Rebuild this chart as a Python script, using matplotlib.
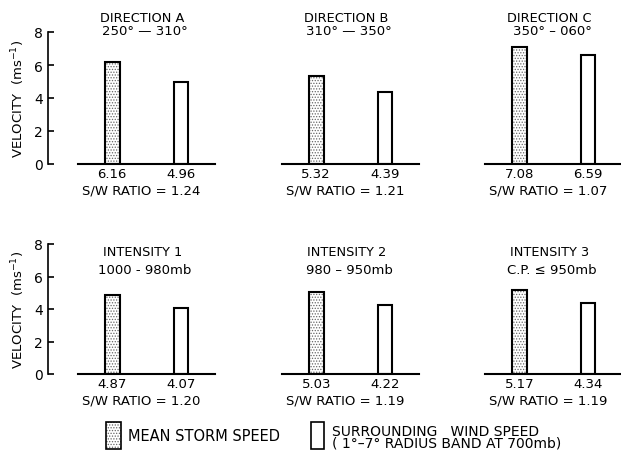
"""Storm speed vs surrounding wind speed, by direction and intensity class."""

import matplotlib
matplotlib.use("Agg")

import matplotlib.pyplot as plt
from matplotlib.patches import Rectangle

plt.rcParams.update({
    "font.family": "DejaVu Sans",
    "font.size": 9,
    "hatch.linewidth": 0.6,
})

# ---------------------------------------------------------------------------
# Dados
# ---------------------------------------------------------------------------
titles = ["DIRECTION A", "DIRECTION B", "DIRECTION C",
          "INTENSITY 1", "INTENSITY 2", "INTENSITY 3"]
subtitles = ["250° — 310°", "310° — 350°", "350° – 060°",
             "1000 - 980mb", "980 – 950mb", "C.P. ≤ 950mb"]
storm_speed = [6.16, 5.32, 7.08, 4.87, 5.03, 5.17]
wind_speed = [4.96, 4.39, 6.59, 4.07, 4.22, 4.34]
sw_ratio = ["1.24", "1.21", "1.07", "1.20", "1.19", "1.19"]
y_ticks = [0, 2, 4, 6, 8]

W, H = 621, 452
fig = plt.figure(figsize=(W / 100, H / 100), dpi=100)

col_x = [78, 282, 485]            # pixel left edge of each baseline
row_y = [(165, 132), (375, 130)]  # (baseline px, height px of 0..8)
ax_w = 137
LW = 1.5

for i in range(6):
    r, c = divmod(i, 3)
    base, h = row_y[r]
    ax = fig.add_axes([col_x[c] / W, 1 - base / H, ax_w / W, h / H])
    ax.set_xlim(0, 4)
    ax.set_ylim(0, 8)
    # barra pontilhada (tempestade) + contorno
    ax.bar(1, storm_speed[i], width=0.44, color="white", edgecolor="#666666",
           hatch="......", linewidth=0)
    ax.bar(1, storm_speed[i], width=0.44, fill=False, edgecolor="black",
           linewidth=LW)
    ax.bar(3, wind_speed[i], width=0.4, color="white", edgecolor="black",
           linewidth=LW)
    for s in ("top", "right"):
        ax.spines[s].set_visible(False)
    ax.spines["bottom"].set_linewidth(LW)
    ax.set_xticks([])
    if c == 0:
        ax.spines["left"].set_position(("outward", 21.6))
        ax.spines["left"].set_linewidth(1.2)
        ax.set_yticks(y_ticks)
        ax.tick_params(axis="y", direction="in", length=4, width=1.2,
                       labelsize=10, pad=3.5)
        ax.set_ylabel(r"VELOCITY  (ms$^{-1}$)", fontsize=9.5, labelpad=5)
    else:
        ax.spines["left"].set_visible(False)
        ax.set_yticks([])

    if r == 0:
        t1, t2 = (165 - 18) / h, (165 - 31.5) / h
    else:
        t1, t2 = (375 - 253) / h, (375 - 271) / h
    ax.text(0.47, t1, titles[i], transform=ax.transAxes, ha="center",
            va="center", fontsize=9.3)
    ax.text(0.49, t2, subtitles[i], transform=ax.transAxes, ha="center",
            va="center", fontsize=9.5)

    ax.text(1, -0.07, f"{storm_speed[i]:.2f}", transform=ax.get_xaxis_transform(),
            ha="center", va="center", fontsize=9.5)
    ax.text(3, -0.07, f"{wind_speed[i]:.2f}", transform=ax.get_xaxis_transform(),
            ha="center", va="center", fontsize=9.5)
    ax.text(0.46, -0.20, f"S/W RATIO = {sw_ratio[i]}", transform=ax.transAxes,
            ha="center", va="center", fontsize=9.5)

# ---------------------------------------------------------------------------
# Legenda
# ---------------------------------------------------------------------------
lg = fig.add_axes([0, 0, 1, 1], zorder=-1)
lg.set_xlim(0, W)
lg.set_ylim(H, 0)
lg.axis("off")
lg.add_patch(Rectangle((106, 423), 15, 27, facecolor="white", edgecolor="#666666",
                       hatch="......", linewidth=0))
lg.add_patch(Rectangle((106, 423), 15, 27, fill=False, edgecolor="black",
                       linewidth=1.2))
lg.text(128, 437, "MEAN STORM SPEED", ha="left", va="center", fontsize=10.5)
lg.add_patch(Rectangle((311, 423), 13, 27, fill=False, edgecolor="black",
                       linewidth=1.2))
lg.text(332, 438, "SURROUNDING   WIND SPEED\n( 1°–7° RADIUS BAND AT 700mb)",
        ha="left", va="center", fontsize=10, linespacing=0.78)

fig.savefig("out.png", dpi=100, facecolor="white")
